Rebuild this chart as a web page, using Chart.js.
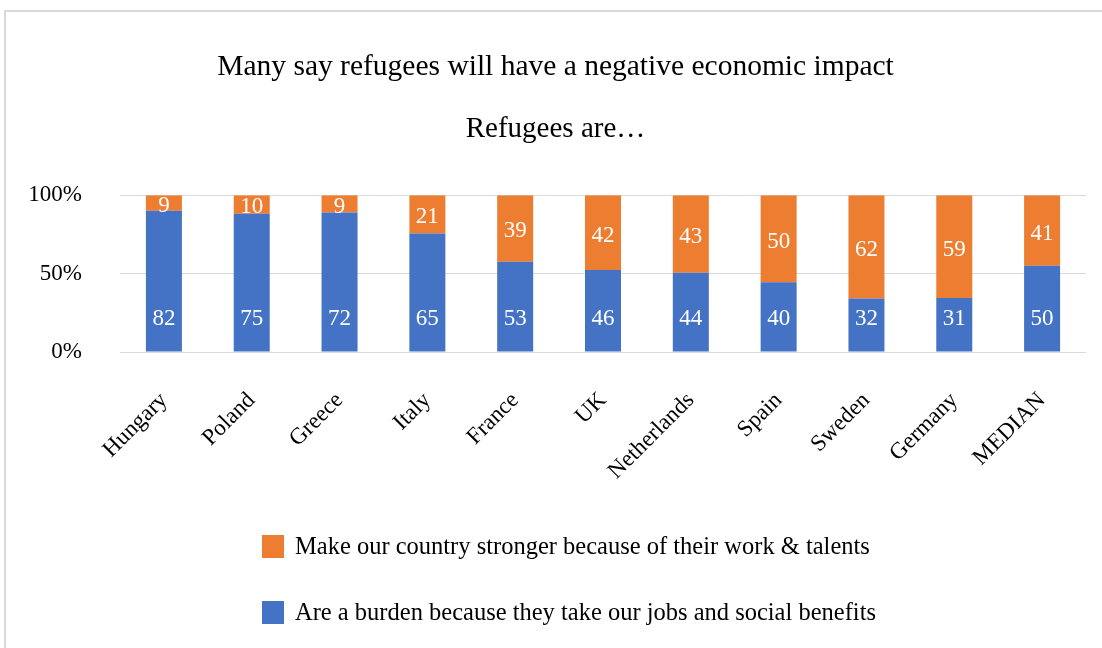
<!DOCTYPE html>
<html>
<head>
<meta charset="utf-8">
<script src="https://cdn.jsdelivr.net/npm/chart.js@4/dist/chart.umd.min.js"></script>
<style>
  body { margin: 0; background: #fff; font-family: "Liberation Serif", "Times New Roman", serif; }
  #wrap { position: relative; width: 1102px; height: 648px; overflow: hidden; }
  #frame { position: absolute; left: 4px; top: 10px; right: 0; bottom: 0; border-left: 2px solid #d9d9d9; border-top: 2px solid #d9d9d9; }
  #chart { position: absolute; left: 0; top: 0; }
  #legend { position: absolute; left: 262px; top: 534px; }
  .item { display: flex; align-items: center; height: 24px; margin-bottom: 42px; font-size: 24.5px; color: #000; white-space: nowrap; }
  .box { width: 22px; height: 23px; margin-right: 11px; }
</style>
</head>
<body>
<div id="wrap">
  <div id="frame"></div>
  <canvas id="chart" width="1102" height="648"></canvas>
  <div id="legend"></div>
</div>
<script>
const countries = ['Hungary', 'Poland', 'Greece', 'Italy', 'France', 'UK', 'Netherlands', 'Spain', 'Sweden', 'Germany', 'MEDIAN'];
const burden = [82, 75, 72, 65, 53, 46, 44, 40, 32, 31, 50];
const stronger = [9, 10, 9, 21, 39, 42, 43, 50, 62, 59, 41];
const yTicks = ['0%', '50%', '100%'];

const serif = '"Liberation Serif", "Times New Roman", serif';

// 100% stacked: share of each answer within the country's total
const share = (arr, i) => arr[i] / (burden[i] + stronger[i]) * 100;
const burdenPct = burden.map((v, i) => share(burden, i));
const strongerPct = stronger.map((v, i) => share(stronger, i));

const valueLabels = {
    id: 'valueLabels',
    afterDatasetsDraw(chart) {
        const ctx = chart.ctx;
        ctx.save();
        ctx.fillStyle = '#fff';
        ctx.font = '23px ' + serif;
        ctx.textAlign = 'center';
        ctx.textBaseline = 'middle';
        chart.data.datasets.forEach((ds, di) => {
            const meta = chart.getDatasetMeta(di);
            meta.data.forEach((bar, i) => {
                const raw = ds.rawValues[i];
                let y;
                if (ds.labelPos === 'base') {
                    y = bar.base - 33;
                } else {
                    y = (bar.y + bar.base) / 2 + 3;
                }
                ctx.fillText(raw, bar.x, y);
            });
        });
        ctx.restore();
    }
};

const chart = new Chart(document.getElementById('chart'), {
    type: 'bar',
    data: {
        labels: countries,
        datasets: [
            {
                label: 'Are a burden because they take our jobs and social benefits',
                data: burdenPct,
                rawValues: burden,
                labelPos: 'base',
                backgroundColor: '#4472C4',
                categoryPercentage: 1,
                barPercentage: 0.41
            },
            {
                label: 'Make our country stronger because of their work & talents',
                data: strongerPct,
                rawValues: stronger,
                labelPos: 'center',
                backgroundColor: '#ED7D31',
                categoryPercentage: 1,
                barPercentage: 0.41
            }
        ]
    },
    options: {
        responsive: false,
        animation: false,
        // left padding nudges the title's centre toward the original frame centre
        layout: { padding: { left: 25, right: 16, top: 0, bottom: 0 } },
        scales: {
            x: {
                stacked: true,
                grid: { display: false },
                border: { display: false },
                ticks: {
                    color: '#000',
                    font: { family: serif, size: 23 },
                    minRotation: 45,
                    maxRotation: 45,
                    padding: 27
                },
                afterFit: (scale) => { scale.height = 296; }
            },
            y: {
                stacked: true,
                min: 0,
                max: 100,
                grid: { color: '#d9d9d9', lineWidth: 1, drawTicks: false },
                border: { display: false },
                ticks: {
                    stepSize: 50,
                    color: '#000',
                    font: { family: serif, size: 23 },
                    padding: 38,
                    callback: (v) => yTicks[v / 50]
                },
                afterFit: (scale) => { scale.width = 95; }
            }
        },
        plugins: {
            legend: { display: false },
            tooltip: { enabled: false },
            title: {
                display: true,
                text: 'Many say refugees will have a negative economic impact',
                color: '#000',
                font: { family: serif, size: 29.5, weight: 'normal' },
                padding: { top: 50, bottom: 27 }
            },
            subtitle: {
                display: true,
                text: 'Refugees are…',
                color: '#000',
                font: { family: serif, size: 29, weight: 'normal' },
                padding: { top: 0, bottom: 48 }
            }
        }
    },
    plugins: [valueLabels]
});

// legend listed top to bottom in reverse dataset order
const legendEl = document.getElementById('legend');
chart.data.datasets.slice().reverse().forEach(ds => {
    const item = document.createElement('div');
    item.className = 'item';
    item.innerHTML = `<span class="box" style="background:${ds.backgroundColor}"></span><span>${ds.label}</span>`;
    legendEl.appendChild(item);
});
</script>
</body>
</html>
